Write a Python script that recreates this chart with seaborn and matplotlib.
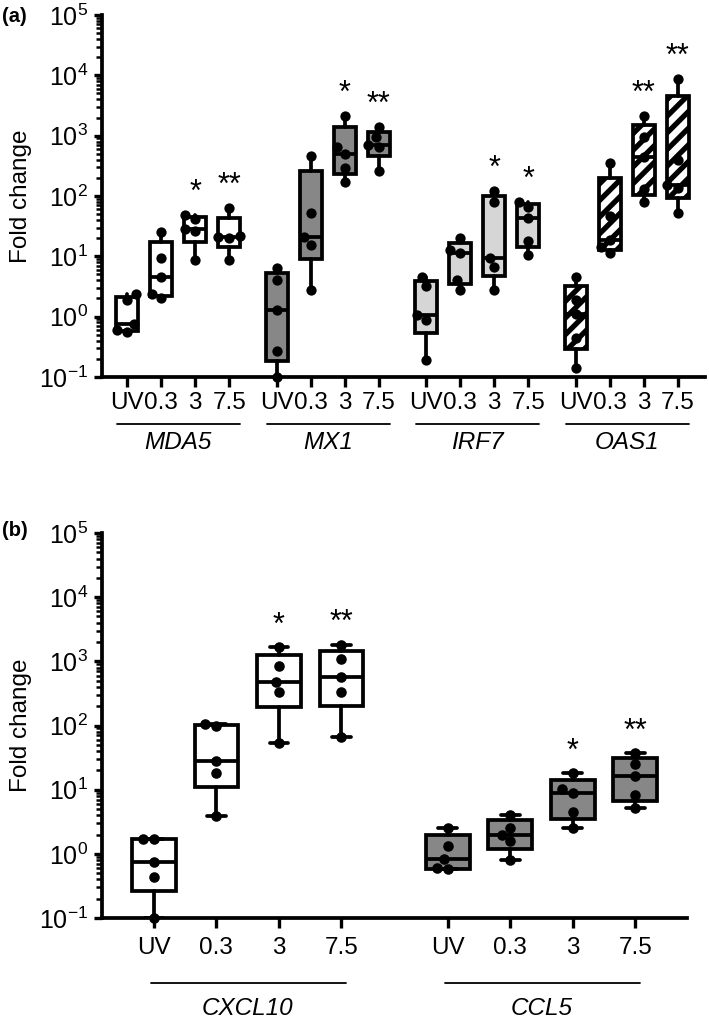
"""
Fold change box plots (panels a and b), Prism-style look
"""

import matplotlib
matplotlib.use("Agg")
import matplotlib.pyplot as plt
import seaborn as sns
import numpy as np
import pandas as pd
from matplotlib.ticker import LogLocator, NullFormatter

sns.set_style("ticks")
plt.rcParams['font.family'] = ['Liberation Sans', 'DejaVu Sans']
plt.rcParams['mathtext.fontset'] = 'custom'
plt.rcParams['mathtext.rm'] = 'Liberation Sans'
plt.rcParams['mathtext.it'] = 'Liberation Sans:italic'
plt.rcParams['hatch.linewidth'] = 3.8
for key in ['text.color', 'axes.labelcolor', 'xtick.color', 'ytick.color', 'axes.edgecolor']:
    plt.rcParams[key] = 'black'

doses = ['UV', '0.3', '3', '7.5']

# panel (a) - five samples per dose
genes_a = ['MDA5', 'MX1', 'IRF7', 'OAS1']
mda5 = [[2.4, 1.9, 0.75, 0.6, 0.55],
        [25, 9.5, 4.5, 2.4, 2.0],
        [48, 42, 28, 26, 8.8],
        [63, 22, 21, 20, 8.7]]
mx1 = [[6.4, 4.0, 1.3, 0.27, 0.1],
       [460, 52, 21, 15.4, 2.8],
       [2100, 650, 500, 290, 170],
       [1390, 950, 700, 650, 260]]
irf7 = [[4.6, 3.2, 1.05, 0.88, 0.19],
        [20, 12.7, 11.4, 4.05, 2.8],
        [121, 79, 9.4, 6.6, 2.8],
        [79, 66, 43, 18, 10.5]]
oas1 = [[4.5, 1.9, 1.1, 0.44, 0.14],
        [350, 47, 18.7, 14.3, 11.4],
        [2100, 950, 450, 130, 78],
        [8600, 400, 150, 135, 52]]
values_a = [mda5, mx1, irf7, oas1]
stars_a = [['', '', '*', '**'], ['', '', '*', '**'],
           ['', '', '*', '*'], ['', '', '**', '**']]
fills_a = ['white', '#878787', '#d6d6d6', 'white']
hatch_a = [None, None, None, '//']

# panel (b)
genes_b = ['CXCL10', 'CCL5']
cxcl10 = [[1.7, 1.7, 0.75, 0.43, 0.1],
          [104, 100, 28, 17.9, 3.9],
          [1650, 840, 480, 334, 54],
          [1790, 1080, 574, 334, 67]]
ccl5 = [[2.55, 1.32, 0.83, 0.6, 0.58],
        [4.1, 2.55, 2.0, 1.57, 0.8],
        [17.9, 10.2, 9.0, 4.5, 2.5],
        [36.7, 25, 16.3, 8.2, 5.1]]
values_b = [cxcl10, ccl5]
stars_b = [['', '', '*', '**'], ['', '', '*', '**']]
fills_b = ['white', '#878787']
hatch_b = [None, None]


def make_frame(genes, values, gap):
    rows = []
    for gi, gene in enumerate(genes):
        for di, dose in enumerate(doses):
            for v in values[gi][di]:
                rows.append({'gene': gene, 'dose': dose,
                             'pos': gi * gap + di, 'fold': v})
    return pd.DataFrame(rows)


def draw_panel(ax, genes, values, stars, fills, hatches, gap, xlim,
               box_w, cap_w, dot, line_y, label_y, line_ext, pad):
    df = make_frame(genes, values, gap)
    ax.set_yscale('log')
    ax.set_ylim(0.1, 1e5)
    ax.set_xlim(*xlim)

    # boxes: quartiles like Prism (n+1 method), whiskers min to max
    for gi, gene in enumerate(genes):
        sub = df[df.gene == gene]
        stats, positions = [], []
        for pos, grp in sub.groupby('pos'):
            v = grp['fold'].to_numpy()
            q1, med, q3 = np.percentile(v, [25, 50, 75], method='weibull')
            stats.append({'med': med, 'q1': q1, 'q3': q3,
                          'whislo': v.min(), 'whishi': v.max(), 'fliers': []})
            positions.append(pos)
        bp = ax.bxp(stats, positions=positions, widths=box_w, patch_artist=True,
                    showfliers=False, capwidths=cap_w, manage_ticks=False,
                    boxprops=dict(facecolor=fills[gi], edgecolor='black', linewidth=2.7),
                    whiskerprops=dict(color='black', linewidth=2.7),
                    capprops=dict(color='black', linewidth=2.7),
                    medianprops=dict(color='black', linewidth=2.7),
                    zorder=2)
        if hatches[gi]:
            for b in bp['boxes']:
                b.set_hatch(hatches[gi])

    sns.swarmplot(data=df, x='pos', y='fold', native_scale=True, color='black',
                  size=dot, ax=ax, zorder=3, clip_on=False)
    ax.set_xlim(*xlim)
    ax.set_ylim(0.1, 1e5)

    # significance stars
    for gi, gene in enumerate(genes):
        for di in range(4):
            if stars[gi][di]:
                top = max(values[gi][di])
                ax.annotate(stars[gi][di], xy=(gi * gap + di, top), xytext=(0, 5),
                            textcoords='offset points', ha='center', va='bottom',
                            fontsize=22)

    # gene name under each group
    for gi, gene in enumerate(genes):
        x0, x1 = gi * gap - line_ext[0], gi * gap + 3 + line_ext[1]
        ax.plot([x0, x1], [line_y, line_y], color='black', lw=1.3,
                transform=ax.get_xaxis_transform(), clip_on=False)
        ax.text(gi * gap + 1.5, label_y, gene, style='italic', fontsize=17.5,
                ha='center', va='center', transform=ax.get_xaxis_transform())

    pos_all = [gi * gap + di for gi in range(len(genes)) for di in range(4)]
    ax.set_xticks(pos_all)
    ax.set_xticklabels(doses * len(genes), fontsize=17.5)
    ax.yaxis.set_major_locator(LogLocator(base=10, numticks=10))
    ax.yaxis.set_minor_locator(LogLocator(base=10, subs=np.arange(2, 10), numticks=10))
    ax.yaxis.set_minor_formatter(NullFormatter())
    ax.tick_params(axis='y', which='major', labelsize=18, length=6, width=2.4, pad=4)
    ax.tick_params(axis='y', which='minor', length=4, width=1.8)
    ax.tick_params(axis='x', which='major', length=7, width=2.4, pad=pad)
    ax.tick_params(axis='x', which='minor', bottom=False)
    ax.set_xlabel('')
    ax.set_ylabel('Fold change', fontsize=17.5, labelpad=5)
    sns.despine(ax=ax)
    for s in ['left', 'bottom']:
        ax.spines[s].set_linewidth(2.7)


fig = plt.figure(figsize=(7.09, 10.28), dpi=100)
ax_a = fig.add_axes([0.1439, 0.6333, 0.8505, 0.3521])
ax_b = fig.add_axes([0.1439, 0.1070, 0.8251, 0.3745])

draw_panel(ax_a, genes_a, values_a, stars_a, fills_a, hatch_a, gap=4.4,
           xlim=(-0.74, 17.0), box_w=0.64, cap_w=0.0, dot=7.4,
           line_y=-0.13, label_y=-0.182, line_ext=(0.3, 0.32), pad=4)
draw_panel(ax_b, genes_b, values_b, stars_b, fills_b, hatch_b, gap=4.7,
           xlim=(-0.83, 8.53), box_w=0.7, cap_w=0.3, dot=7.6,
           line_y=-0.169, label_y=-0.234, line_ext=(0.05, 0.07), pad=7)

fig.text(0.003, 1 - 16 / 1028, '(a)', fontsize=14.5, fontweight='bold', va='center')
fig.text(0.003, 1 - 530 / 1028, '(b)', fontsize=14.5, fontweight='bold', va='center')

fig.savefig('out.png', dpi=100)
